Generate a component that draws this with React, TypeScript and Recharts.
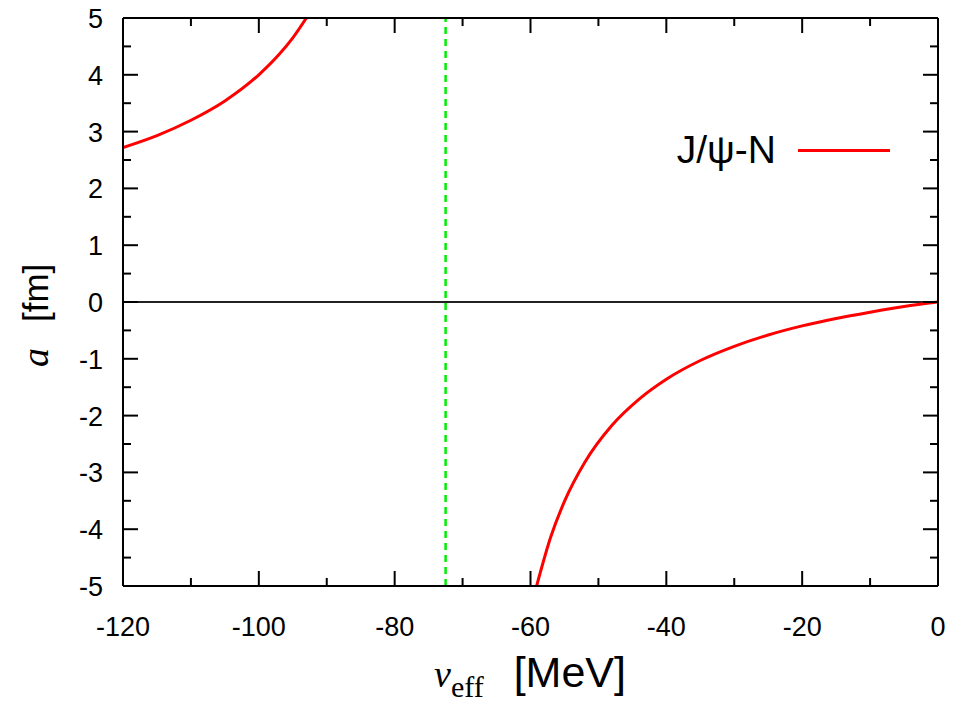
import React from "react";
import {
  LineChart,
  Line,
  XAxis,
  YAxis,
  ReferenceLine,
  Legend,
} from "recharts";

// upper branch (left of the pole)
const upperV = [-120, -115, -110, -105, -100, -97, -95, -93];
const upperA = [2.72, 2.93, 3.2, 3.54, 4.0, 4.36, 4.65, 5.0];

// lower branch (right of the pole)
const lowerV = [-59.1, -57, -55, -52, -48, -44, -40, -35, -30, -25, -20, -15, -10, -5, 0];
const lowerA = [-5.0, -4.13, -3.51, -2.82, -2.17, -1.71, -1.36, -1.03, -0.78, -0.58, -0.42, -0.29, -0.18, -0.08, 0];

const xTicks = [-120, -110, -100, -90, -80, -70, -60, -50, -40, -30, -20, -10, 0];
const yTicks = [-5, -4.5, -4, -3.5, -3, -2.5, -2, -1.5, -1, -0.5, 0, 0.5, 1, 1.5, 2, 2.5, 3, 3.5, 4, 4.5, 5];
const thresholdV = -72.5;
const seriesName = "J/ψ-N";

const upper = upperV.map((v, i) => ({ v, a: upperA[i] }));
const lower = lowerV.map((v, i) => ({ v, a: lowerA[i] }));

const SANS = "'Liberation Sans', Arial, sans-serif";
const SERIF = "'Liberation Serif', 'Times New Roman', serif";
const MAJOR = 15;
const MINOR = 8;

const isMajorX = (v: number) => v % 20 === 0;
const isMajorY = (v: number) => Number.isInteger(v);

function BottomTick(props: any) {
  const { x, y, payload } = props;
  const major = isMajorX(payload.value);
  return (
    <g>
      <line x1={x} x2={x} y1={y} y2={y - (major ? MAJOR : MINOR)} stroke="#000" strokeWidth={2} />
      {major && (
        <text x={x} y={y + 50} textAnchor="middle" fontFamily={SANS} fontSize={27} fill="#000">
          {payload.value}
        </text>
      )}
    </g>
  );
}

function TopTick(props: any) {
  const { x, y, payload } = props;
  const major = isMajorX(payload.value);
  return <line x1={x} x2={x} y1={y} y2={y + (major ? MAJOR : MINOR)} stroke="#000" strokeWidth={2} />;
}

function LeftTick(props: any) {
  const { x, y, payload } = props;
  const major = isMajorY(payload.value);
  return (
    <g>
      <line x1={x} x2={x + (major ? MAJOR : MINOR)} y1={y} y2={y} stroke="#000" strokeWidth={2} />
      {major && (
        <text x={x - 20} y={y + 10} textAnchor="end" fontFamily={SANS} fontSize={27} fill="#000">
          {payload.value}
        </text>
      )}
    </g>
  );
}

function RightTick(props: any) {
  const { x, y, payload } = props;
  const major = isMajorY(payload.value);
  return <line x1={x} x2={x - (major ? MAJOR : MINOR)} y1={y} y2={y} stroke="#000" strokeWidth={2} />;
}

function XTitle() {
  return (
    <text x={434} y={687} fill="#000">
      <tspan fontFamily={SERIF} fontStyle="italic" fontSize={38}>v</tspan>
      <tspan fontFamily={SERIF} fontSize={30} dy={10}>eff</tspan>
      <tspan fontFamily={SANS} fontSize={43} dy={-10} dx={30}>[MeV]</tspan>
    </text>
  );
}

function YTitle() {
  return (
    <text x={48} y={367} transform="rotate(-90 48 367)" fill="#000">
      <tspan fontFamily={SERIF} fontStyle="italic" fontSize={38}>a</tspan>
      <tspan fontFamily={SANS} fontSize={35} dx={26}>[fm]</tspan>
    </text>
  );
}

function LegendBox() {
  return (
    <div style={{ display: "flex", alignItems: "center", justifyContent: "flex-end" }}>
      <span style={{ fontFamily: SANS, fontSize: 39, color: "#000", lineHeight: "42px" }}>{seriesName}</span>
      <span style={{ display: "inline-block", width: 92, height: 3, background: "#ff0000", marginLeft: 22 }} />
    </div>
  );
}

export default function App() {
  return (
    <div style={{ position: "absolute", left: 0, top: 0, background: "#fff" }}>
      <LineChart width={953} height={705} margin={{ top: 17, right: 14, bottom: 19, left: 23 }}>
        <XAxis
          xAxisId="b"
          type="number"
          dataKey="v"
          domain={[-120, 0]}
          ticks={xTicks}
          interval={0}
          height={100}
          tickSize={0}
          tickMargin={0}
          axisLine={{ stroke: "#000", strokeWidth: 2 }}
          tickLine={false}
          tick={(p: any) => <BottomTick {...p} />}
          label={<XTitle />}
          allowDataOverflow
        />
        <XAxis
          xAxisId="t"
          orientation="top"
          type="number"
          dataKey="v"
          domain={[-120, 0]}
          ticks={xTicks}
          interval={0}
          height={1}
          tickSize={0}
          tickMargin={0}
          axisLine={{ stroke: "#000", strokeWidth: 2 }}
          tickLine={false}
          tick={(p: any) => <TopTick {...p} />}
          allowDataOverflow
        />
        <YAxis
          yAxisId="l"
          type="number"
          domain={[-5, 5]}
          ticks={yTicks}
          interval={0}
          width={100}
          tickSize={0}
          tickMargin={0}
          axisLine={{ stroke: "#000", strokeWidth: 2 }}
          tickLine={false}
          tick={(p: any) => <LeftTick {...p} />}
          label={<YTitle />}
          allowDataOverflow
        />
        <YAxis
          yAxisId="r"
          orientation="right"
          type="number"
          domain={[-5, 5]}
          ticks={yTicks}
          interval={0}
          width={1}
          tickSize={0}
          tickMargin={0}
          axisLine={{ stroke: "#000", strokeWidth: 2 }}
          tickLine={false}
          tick={(p: any) => <RightTick {...p} />}
          allowDataOverflow
        />
        <ReferenceLine xAxisId="b" yAxisId="l" y={0} stroke="#222" strokeWidth={2} />
        <ReferenceLine
          xAxisId="b"
          yAxisId="l"
          x={thresholdV}
          stroke="#00ee00"
          strokeWidth={2.5}
          strokeDasharray="7 5"
        />
        <Line
          xAxisId="b"
          yAxisId="l"
          data={upper}
          dataKey="a"
          type="monotone"
          stroke="#ff0000"
          strokeWidth={3}
          dot={false}
          isAnimationActive={false}
          name={seriesName}
        />
        <Line
          xAxisId="b"
          yAxisId="l"
          data={lower}
          dataKey="a"
          type="monotone"
          stroke="#ff0000"
          strokeWidth={3}
          dot={false}
          isAnimationActive={false}
          legendType="none"
        />
        <Legend
          layout="horizontal"
          verticalAlign="middle"
          align="center"
          content={() => <LegendBox />}
          wrapperStyle={{ top: 129, left: 600, width: 290, height: 42 }}
        />
      </LineChart>
    </div>
  );
}
